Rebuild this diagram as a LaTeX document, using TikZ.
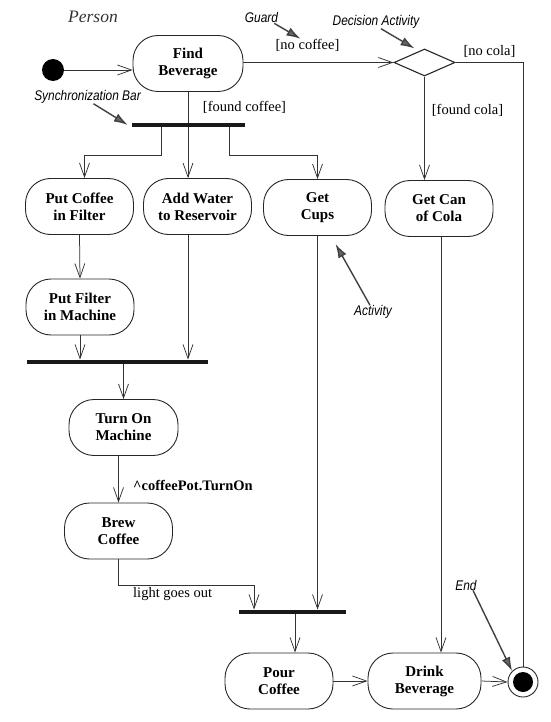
\documentclass[tikz,border=0pt]{standalone}
\usepackage{fontspec}
\setmainfont{Liberation Serif}
\newfontfamily\notefont[FakeStretch=0.85]{Liberation Sans}
\usetikzlibrary{arrows.meta,shapes.geometric}
\begin{document}
\begin{tikzpicture}[x=1pt,y=-1pt]
  \tikzstyle{every node}+=[inner sep=0pt]
  \tikzstyle{activity}=[draw=black!85, line width=0.9pt, rectangle, rounded corners=25pt, minimum width=108pt, minimum height=56pt, align=center, font=\fontsize{15}{17}\selectfont\bfseries]
  \tikzstyle{syncbar}=[fill=black!90, rectangle, minimum height=4.5pt]
  \tikzstyle{flow}=[draw=black!80, line width=0.75pt, -{Straight Barb[length=14pt,width=10pt]}]
  \tikzstyle{plain}=[draw=black!80, line width=0.75pt]
  \tikzstyle{guard}=[font=\fontsize{14.5}{17}\selectfont]
  \tikzstyle{note}=[font=\notefont\itshape\fontsize{14}{16}\selectfont]
  \tikzstyle{pointer}=[draw=black!75, line width=1.4pt, -{Latex[length=14pt,width=9pt,fill=black!60]}]
  \useasboundingbox (0,0) rectangle (550,722);
  \node[font=\itshape\fontsize{17.5}{20}\selectfont, text=black!80] (person) at (93,17) {Person};
  \node[circle, fill=black, minimum size=22pt] (start) at (53,70) {};
  \node[activity, minimum width=110pt] (find) at (188,63.5) {Find\\Beverage};
  \node[diamond, draw=black!85, line width=1.1pt, minimum width=61pt, minimum height=27pt] (dec) at (424.5,62.5) {};
  \node[syncbar, minimum width=113pt] (barA) at (188.5,125) {};
  \node[activity] (putcoffee) at (79.5,206.5) {Put Coffee\\in Filter};
  \node[activity] (addwater) at (197.5,206.5) {Add Water\\to Reservoir};
  \node[activity] (getcups) at (317.5,207.5) {Get\\Cups};
  \node[activity] (getcola) at (439,208.5) {Get Can\\of Cola};
  \node[activity] (putfilter) at (80,307) {Put Filter\\in Machine};
  \node[syncbar, minimum width=181pt] (barB) at (117.5,362) {};
  \node[activity, minimum width=109pt] (turnon) at (123.5,427.5) {Turn On\\Machine};
  \node[activity] (brew) at (118.5,531) {Brew\\Coffee};
  \node[syncbar, minimum width=107pt] (barC) at (292.5,612) {};
  \node[activity] (pour) at (279,681) {Pour\\Coffee};
  \node[activity, minimum width=113pt] (drink) at (424.5,681) {Drink\\Beverage};
  \node[circle, draw=black!85, line width=0.9pt, minimum size=30pt] (end) at (523,682) {};
  \fill[black] (end) circle (10pt);
  \node[guard] (nocoffee) at (307.5,45) {[no coffee]};
  \node[guard] (nocola) at (489.5,51) {[no cola]};
  \node[guard] (foundcoffee) at (244.5,107) {[found coffee]};
  \node[guard] (foundcola) at (467.5,110) {[found cola]};
  \node[guard, anchor=west] (lightout) at (133,594) {light goes out};
  \node[anchor=west, font=\fontsize{14.5}{17}\selectfont\bfseries] (turnonmsg) at (133,485) {\textasciicircum coffeePot.TurnOn};
  \node[note] (guardlbl) at (261.5,18) {Guard};
  \node[note] (declbl) at (376,22) {Decision Activity};
  \node[note] (synclbl) at (87.5,97) {Synchronization Bar};
  \node[note] (actlbl) at (373,312) {Activity};
  \node[note] (endlbl) at (466,585) {End};
  \draw[flow] (start) -- (start -| find.west);
  \draw[flow] (find.east |- dec) -- (dec.west);
  \draw[plain] (dec.east) -| (end.north);
  \draw[flow] (dec.south) -- (dec.south |- getcola.north);
  \draw[plain] (find.south) -- (barA.north -| find.south);
  \draw[flow] (barA.south -| find.south) -- (addwater.north -| find.south);
  \draw[flow] ([xshift=-27.5pt]barA.south) -- ++(0,28) -| ([xshift=5pt]putcoffee.north);
  \draw[flow] ([xshift=40.5pt]barA.south) -- ++(0,28) -| (getcups.north);
  \draw[flow] (putcoffee.south) -- (putfilter.north);
  \draw[flow] ([xshift=-9.5pt]addwater.south) -- ([xshift=-9.5pt]addwater.south |- barB.north);
  \draw[flow] (putfilter.south) -- (putfilter.south |- barB.north);
  \draw[flow] (barB.south -| turnon.north) -- (turnon.north);
  \draw[flow] (brew.north |- turnon.south) -- (brew.north);
  \draw[flow] (brew.south) -- ++(0,26) -| ([xshift=-38.5pt]barC.north);
  \draw[flow] (getcups.south) -- (getcups.south |- barC.north);
  \draw[flow] ([xshift=2.5pt]barC.south) -- ([xshift=2.5pt]barC.south |- pour.north);
  \draw[flow] ([xshift=2pt]getcola.south) -- ([xshift=2pt]getcola.south |- drink.north);
  \draw[flow] (pour.east) -- (drink.west);
  \draw[flow] (drink.east) -- (end.west);
  \draw[pointer] ([xshift=-4pt]guardlbl.south east) -- ([xshift=-7pt]nocoffee.north);
  \draw[pointer] ([xshift=5pt]declbl.south) -- ([xshift=-10pt]dec.north);
  \draw[pointer] ([xshift=6pt]synclbl.south) -- ([xshift=-4pt]barA.west);
  \draw[pointer] ([xshift=-3pt]actlbl.north) -- ([xshift=18pt,yshift=-8pt]getcups.south);
  \draw[pointer] ([xshift=7pt]endlbl.south) -- (end.north west);
\end{tikzpicture}
\end{document}
